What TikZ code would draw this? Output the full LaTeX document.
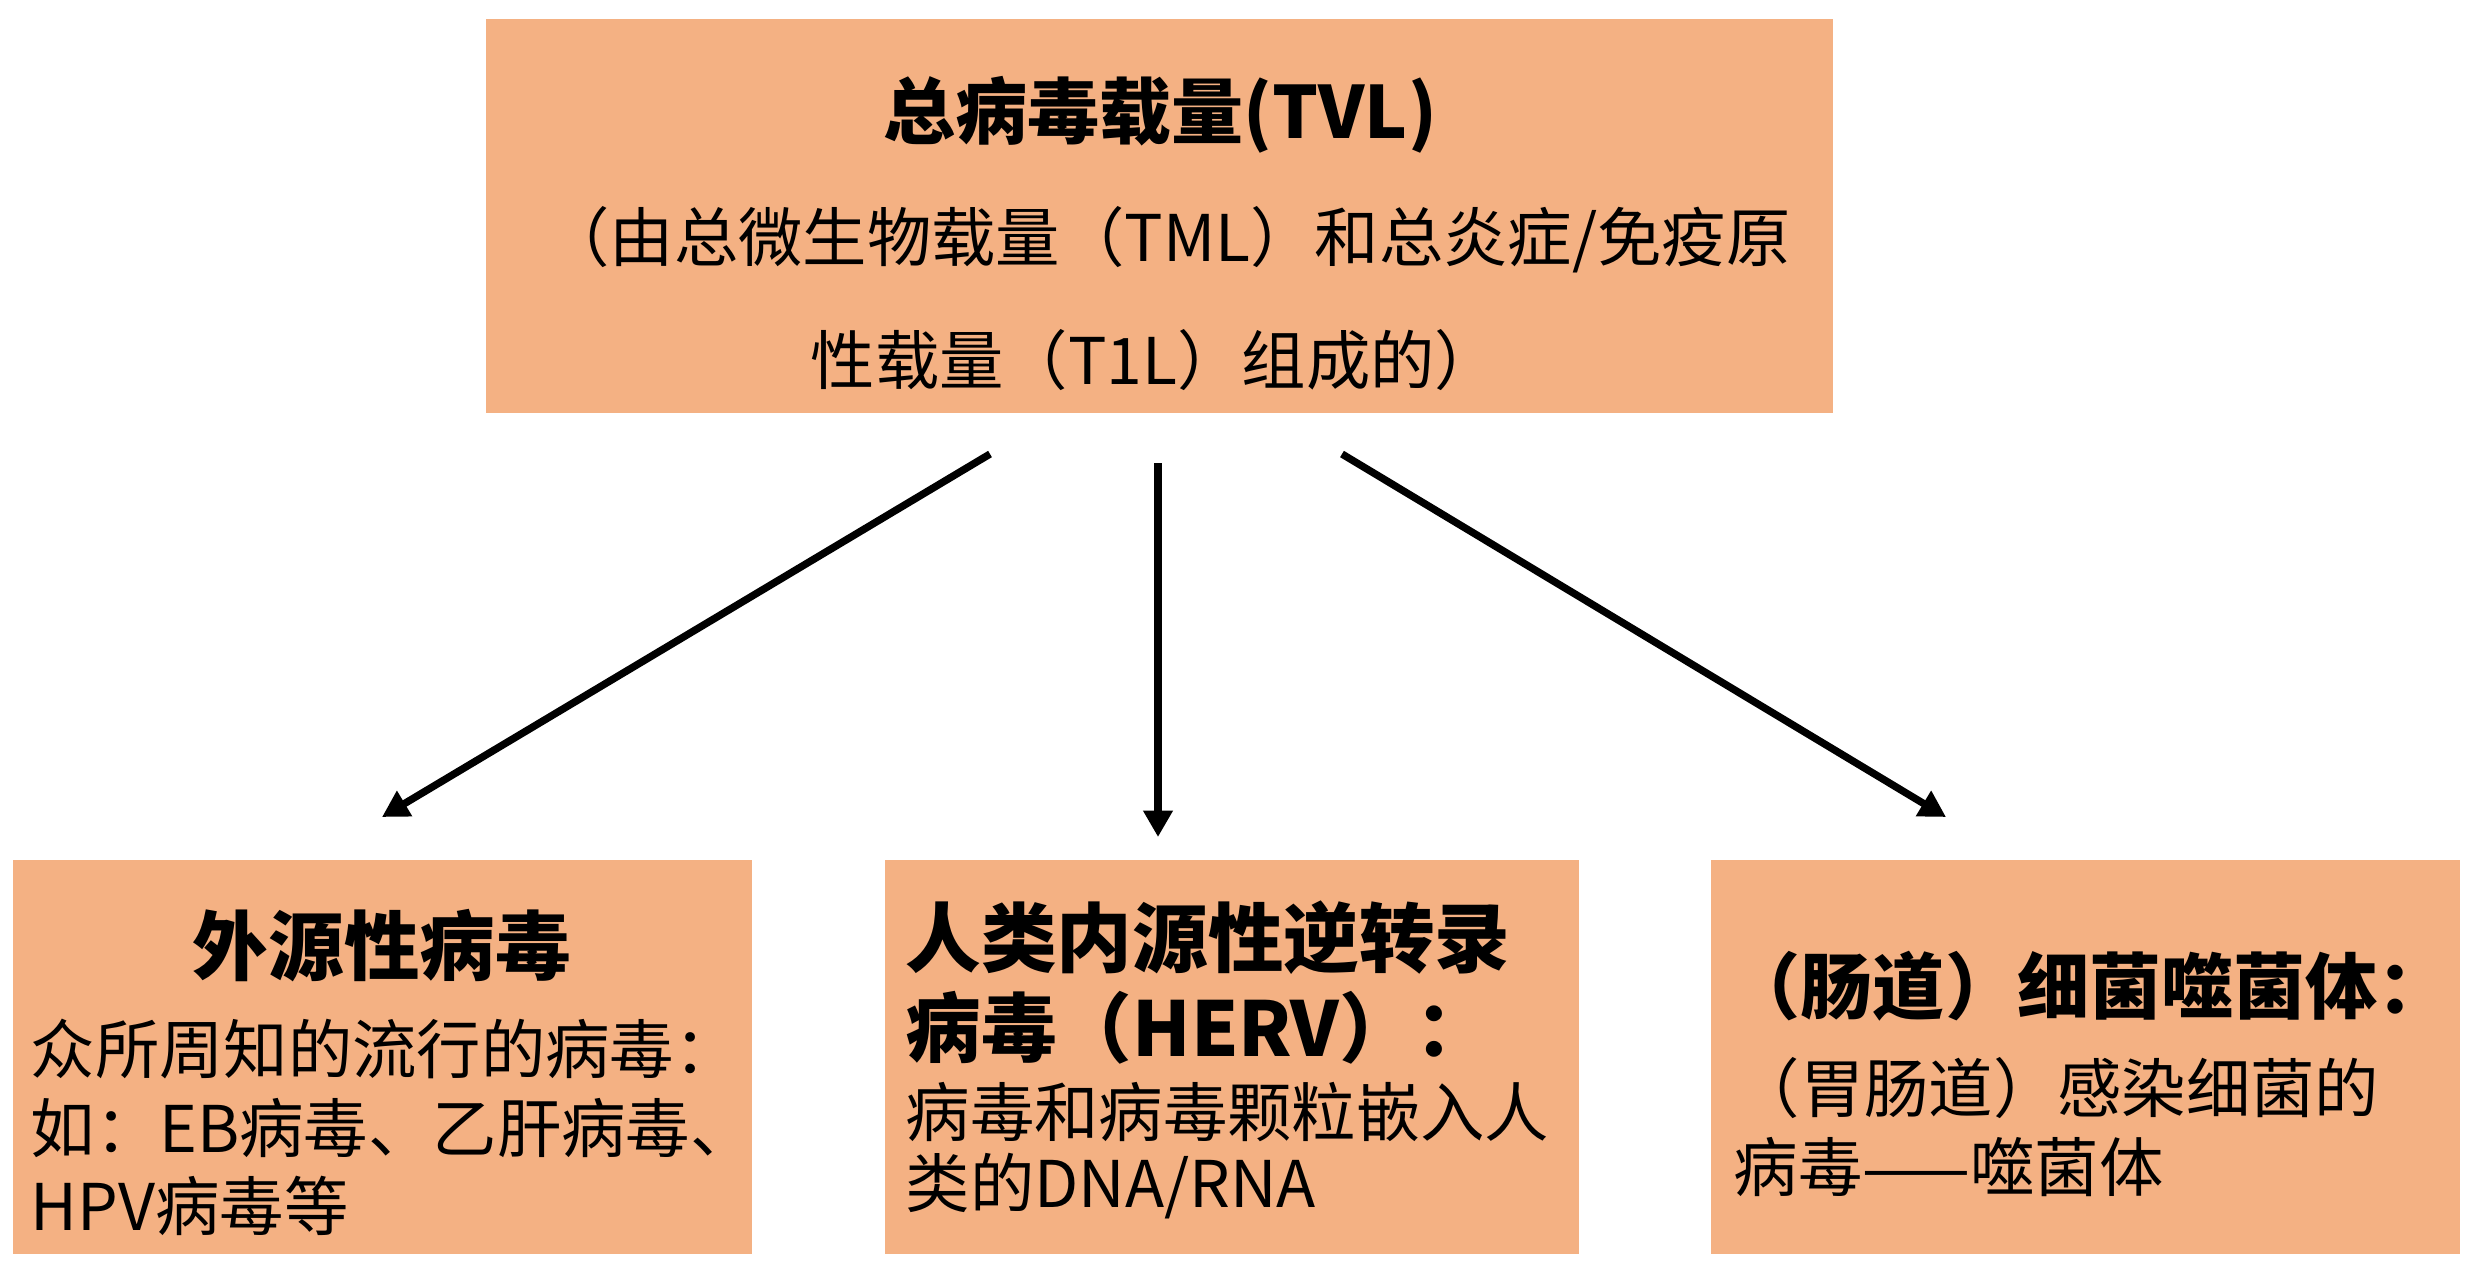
\documentclass[tikz,border=0pt]{standalone}
\usepackage{fontspec}
\newfontfamily\cjk{Noto Sans CJK SC}
\usetikzlibrary{arrows.meta}
\definecolor{boxfill}{RGB}{244,177,131}
\tikzset{
  box/.style={rectangle, fill=boxfill, draw=none, inner sep=0pt},
  ln/.style={inner sep=0pt, anchor=west},
  lc/.style={inner sep=0pt, anchor=center},
  ttl/.style={font=\cjk\bfseries\fontsize{20.5pt}{24pt}\selectfont},
  bttl/.style={font=\cjk\bfseries\fontsize{21.5pt}{24pt}\selectfont},
  bod/.style={font=\cjk\fontsize{18.3pt}{22pt}\selectfont},
  conn/.style={line width=2.1pt, -{Triangle[width=8pt,length=7.5pt]}}
}
\begin{document}
\begin{tikzpicture}[x=0.01cm,y=-0.01cm]
\useasboundingbox (0,0) rectangle (2473,1266);
% boxes
\node[box, minimum width=13.47cm, minimum height=3.94cm] (top) at (1159.5,216) {};
\node[box, minimum width=7.39cm, minimum height=3.94cm] (left) at (382.5,1057) {};
\node[box, minimum width=6.94cm, minimum height=3.94cm] (mid) at (1232,1057) {};
\node[box, minimum width=7.49cm, minimum height=3.94cm] (right) at (2085.5,1057) {};
% top text
\node[lc, ttl] (t1) at (1160,115) {总病毒载量(TVL)};
\node[lc, bod] (t2) at (1168,240) {（由总微生物载量（TML）和总炎症/免疫原};
\node[lc, bod] (t3) at (1155,360) {性载量（T1L）组成的）};
% left text
\node[lc, bttl] (l1) at (382,946) {外源性病毒};
\node[ln, bod] (l2) at (30,1049) {众所周知的流行的病毒：};
\node[ln, bod] (l3) at (30,1128) {如：EB病毒、乙肝病毒、};
\node[ln, bod] (l4) at (30,1206) {HPV病毒等};
% middle text
\node[ln, bttl] (m1) at (905,938) {人类内源性逆转录};
\node[ln, bttl] (m2) at (905,1028) {病毒（HERV）：};
\node[ln, bod] (m3) at (905,1112) {病毒和病毒颗粒嵌入人};
\node[ln, bod] (m4) at (905,1186) {类的DNA/RNA};
% right text
\node[ln, ttl] (r1) at (1728,986) {（肠道）细菌噬菌体：};
\node[ln, bod] (r2) at (1735,1088) {（胃肠道）感染细菌的};
\node[ln, bod] (r3) at (1733,1167) {病毒——噬菌体};
% connectors
\coordinate (s1) at (990,454);
\coordinate (e1) at (382,817);
\coordinate (s2) at (1158,463);
\coordinate (e2) at (1158,837);
\coordinate (s3) at (1342,454);
\coordinate (e3) at (1946,817);
\draw[conn] (s1) -- (e1);
\draw[conn] (s2) -- (e2);
\draw[conn] (s3) -- (e3);
\end{tikzpicture}
\end{document}
